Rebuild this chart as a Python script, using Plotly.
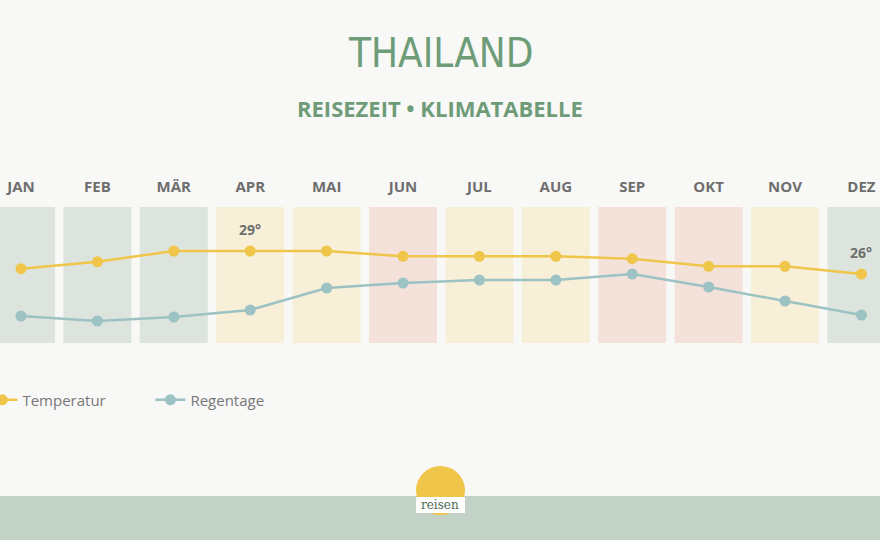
import plotly.graph_objects as go

months = ["JAN", "FEB", "MÄR", "APR", "MAI", "JUN", "JUL", "AUG", "SEP", "OKT", "NOV", "DEZ"]
temperature = [26.7, 27.6, 29, 29, 29, 28.3, 28.3, 28.3, 28.0, 27.0, 27.0, 26]
rain_days = [4.0, 3.0, 3.8, 5.2, 9.6, 10.6, 11.2, 11.2, 12.4, 9.8, 7.0, 4.2]
season = ["cool", "cool", "cool", "hot", "hot", "wet", "hot", "hot", "wet", "wet", "hot", "cool"]
temp_labels = {"APR": "29°", "DEZ": "26°"}

season_colors = {"cool": "#dde4de", "hot": "#f8efd8", "wet": "#f4e1da"}
GREEN = "#6f9c78"
GREY = "#6e6e6e"
TEMP_C = "#efc54a"
RAIN_C = "#9cc2c3"
BG = "#f8f8f7"

fig = go.Figure()

fig.add_trace(go.Scatter(
    x=months, y=temperature, name="Temperatur", mode="lines+markers",
    line=dict(color=TEMP_C, width=2.5), marker=dict(color=TEMP_C, size=11),
    hoverinfo="skip",
))
fig.add_trace(go.Scatter(
    x=months, y=rain_days, name="Regentage", mode="lines+markers", yaxis="y2",
    line=dict(color=RAIN_C, width=2.5), marker=dict(color=RAIN_C, size=11),
    hoverinfo="skip",
))

shapes = []
for i, s in enumerate(season):
    shapes.append(dict(type="rect", xref="x", yref="paper", x0=i - 0.445, x1=i + 0.445,
                       y0=0, y1=1, fillcolor=season_colors[s], line=dict(width=0), layer="below"))
# footer band
shapes.append(dict(type="rect", xref="paper", yref="paper", x0=-0.1, x1=1.1,
                   y0=-1.46, y1=-1.125, fillcolor="#c3d2c6", line=dict(width=0), layer="below"))
# logo
shapes.append(dict(type="circle", xref="paper", yref="paper", x0=416 / 880, x1=465 / 880,
                   y0=(343 - 515) / 136, y1=(343 - 466) / 136, fillcolor="#efc54a",
                   line=dict(width=0), layer="above"))
shapes.append(dict(type="rect", xref="paper", yref="paper", x0=416 / 880, x1=465 / 880,
                   y0=(343 - 513) / 136, y1=(343 - 497) / 136, fillcolor="#ffffff",
                   line=dict(width=0), layer="above"))

annotations = [
    dict(text="THAILAND", xref="paper", yref="paper", x=0.5, y=(343 - 53) / 136, yanchor="middle",
         showarrow=False, font=dict(family="DejaVu Sans Condensed, Roboto, sans-serif", size=40, color=GREEN)),
    dict(text="REISEZEIT • KLIMATABELLE", xref="paper", yref="paper", x=0.5, y=(343 - 108) / 136,
         yanchor="middle", showarrow=False,
         font=dict(family="Open Sans", size=22, color=GREEN, weight="bold")),
    dict(text="reisen", xref="paper", yref="paper", x=0.5, y=(343 - 505) / 136, yanchor="middle",
         showarrow=False, font=dict(family="DejaVu Serif", size=12, color="#4d6b55")),
]
for m, lab in temp_labels.items():
    i = months.index(m)
    annotations.append(dict(text=lab, x=m, y=temperature[i], xref="x", yref="y", yshift=22,
                            showarrow=False, font=dict(family="Open Sans", size=14, color=GREY, weight="bold")))

fig.update_layout(
    width=880, height=540,
    margin=dict(l=0, r=0, t=207, b=197, autoexpand=False),
    paper_bgcolor=BG, plot_bgcolor=BG,
    xaxis=dict(type="category", range=[-0.275, 11.243], side="top", showgrid=False, zeroline=False,
               showline=False, ticks="outside", ticklen=8, tickcolor="rgba(0,0,0,0)",
               tickfont=dict(family="Open Sans", size=15, color=GREY, weight="bold"), fixedrange=True),
    yaxis=dict(range=[17.0, 34.74], visible=False, fixedrange=True),
    yaxis2=dict(range=[-1.4, 25.8], overlaying="y", visible=False, fixedrange=True),
    showlegend=True,
    legend=dict(orientation="h", x=-0.020, xanchor="left", y=-0.42, yanchor="middle",
                font=dict(family="Open Sans", size=15, color="#777777"),
                bgcolor="rgba(0,0,0,0)", entrywidth=123, entrywidthmode="pixels"),
    shapes=shapes, annotations=annotations,
)

fig.write_html("out.html", config={"displayModeBar": False},
               post_script="document.body.style.margin='0';document.body.style.overflow='hidden';")
